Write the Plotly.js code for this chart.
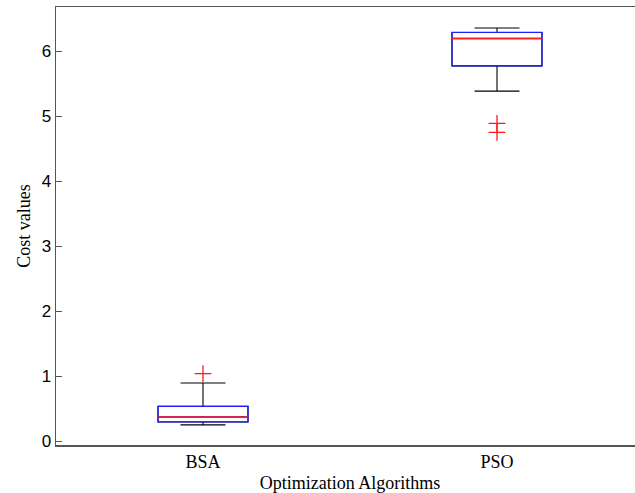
<!DOCTYPE html>
<html>
<head>
<meta charset="utf-8">
<script src="https://cdn.plot.ly/plotly-3.0.1.min.js"></script>
<style>
html, body { margin: 0; padding: 0; overflow: hidden; background: #ffffff; }
#chart { width: 644px; height: 493px; }
</style>
</head>
<body>
<div id="chart"></div>
<script>
// Data
var algorithms = ['BSA', 'PSO'];
var q1Values = [0.295, 5.774];
var medianValues = [0.372, 6.195];
var q3Values = [0.535, 6.288];
var lowerWhisker = [0.249, 5.386];
var upperWhisker = [0.894, 6.358];
var outlierAlgorithms = ['BSA', 'PSO', 'PSO'];
var outlierValues = [1.037, 4.889, 4.751];
var yTickValues = [0, 1, 2, 3, 4, 5, 6];
var yTickLabels = ['0', '1', '2', '3', '4', '5', '6'];

var boxWidth = 0.306;

var whiskers = {
  type: 'box', x: algorithms,
  q1: q1Values, median: medianValues, q3: q3Values,
  lowerfence: lowerWhisker, upperfence: upperWhisker,
  width: boxWidth, whiskerwidth: 0.5,
  line: { color: '#000000', width: 1.1 },
  fillcolor: 'rgba(0,0,0,0)',
  boxpoints: false, hoverinfo: 'skip', showlegend: false
};

var boxes = {
  type: 'box', x: algorithms,
  q1: q1Values, median: medianValues, q3: q3Values,
  lowerfence: q1Values, upperfence: q3Values,
  width: boxWidth, whiskerwidth: 0,
  line: { color: '#1f1fff', width: 1.3 },
  fillcolor: 'rgba(0,0,0,0)',
  boxpoints: false, hoverinfo: 'skip', showlegend: false
};

var medians = {
  type: 'box', x: algorithms,
  q1: medianValues, median: medianValues, q3: medianValues,
  lowerfence: medianValues, upperfence: medianValues,
  width: boxWidth, whiskerwidth: 0,
  line: { color: '#ff2020', width: 1.3 },
  fillcolor: 'rgba(0,0,0,0)',
  boxpoints: false, hoverinfo: 'skip', showlegend: false
};

var outliers = {
  type: 'scatter', mode: 'markers',
  x: outlierAlgorithms, y: outlierValues,
  marker: { symbol: 'cross-thin', size: 12, line: { color: '#ff1a1a', width: 1.3 } },
  hoverinfo: 'skip', showlegend: false
};

var layout = {
  width: 644, height: 493,
  margin: { l: 56, r: 0, t: 7, b: 48 },
  paper_bgcolor: '#ffffff', plot_bgcolor: '#ffffff',
  boxmode: 'overlay',
  showlegend: false,
  xaxis: {
    type: 'category', range: [-0.5, 1.5],
    showline: true, mirror: true, linecolor: '#555555', linewidth: 1.5,
    ticks: '', showgrid: false, zeroline: false,
    tickfont: { family: 'Liberation Serif', size: 18, color: '#000000' },
    title: { text: 'Optimization Algorithms', font: { family: 'Liberation Serif', size: 18, color: '#000000' }, standoff: 6 },
    automargin: false
  },
  yaxis: {
    range: [-0.06, 6.68],
    tickmode: 'array', tickvals: yTickValues, ticktext: yTickLabels,
    showline: true, linecolor: '#555555', linewidth: 1.5,
    ticks: 'inside', ticklen: 6, tickcolor: '#555555', tickwidth: 1.2,
    showgrid: false, zeroline: false,
    tickfont: { family: 'Liberation Sans', size: 17, color: '#000000' },
    title: { text: 'Cost values', font: { family: 'Liberation Serif', size: 18, color: '#000000' }, standoff: 6 },
    automargin: false
  }
};

Plotly.newPlot('chart', [whiskers, boxes, medians, outliers], layout, { displayModeBar: false, staticPlot: true });
</script>
</body>
</html>
